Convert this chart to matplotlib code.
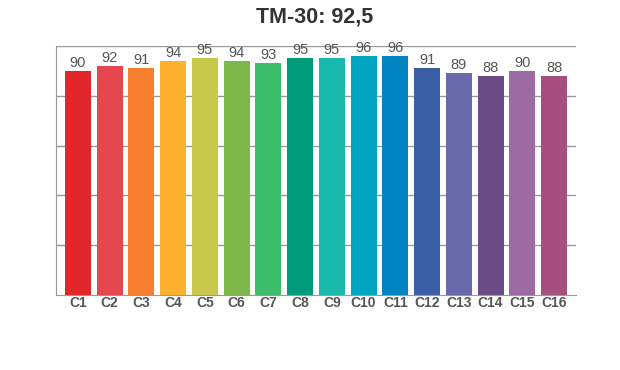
import matplotlib
matplotlib.use("Agg")
import matplotlib.pyplot as plt

plt.rcParams["font.family"] = ["Liberation Sans", "DejaVu Sans"]

categories = ["C1", "C2", "C3", "C4", "C5", "C6", "C7", "C8",
              "C9", "C10", "C11", "C12", "C13", "C14", "C15", "C16"]
values = [90, 92, 91, 94, 95, 94, 93, 95, 95, 96, 96, 91, 89, 88, 90, 88]
colors = ["#e3262b", "#e5474e", "#f57e2f", "#fbb12d", "#c8c84a", "#7db84a",
          "#3ebd6a", "#009b7a", "#1ab9ae", "#00a6c1", "#0085c2", "#3a5fa6",
          "#6a69ab", "#6a4b86", "#9e6aa3", "#a64e7d"]
title = "TM-30: 92,5"

fig = plt.figure(figsize=(6.2, 3.7), dpi=100)
ax = fig.add_axes([0.0897, 0.2027, 0.8393, 0.673])

x = list(range(len(categories)))
bars = ax.bar(x, values, width=0.82, color=colors, zorder=2)

for b, v in zip(bars, values):
    ax.text(b.get_x() + b.get_width() / 2, v + 0.4, str(v),
            ha="center", va="bottom", fontsize=10.5, color="#555555")

ax.set_xlim(-0.7, 15.69)
ax.set_ylim(0, 100)
ax.set_yticks([20, 40, 60, 80, 100])
ax.yaxis.grid(True, color="#999999", linewidth=1, zorder=0)
ax.tick_params(axis="y", left=False, labelleft=False)
ax.tick_params(axis="x", length=0, pad=1)
ax.set_xticks(x)
ax.set_xticklabels(categories, fontsize=10, fontweight="bold", color="#555555")

for s in ["top", "right"]:
    ax.spines[s].set_visible(False)
for s in ["left", "bottom"]:
    ax.spines[s].set_color("#999999")

fig.text(0.508, 0.953, title, ha="center", va="center",
         fontsize=15.5, fontweight="bold", color="#333333")

fig.savefig("out.png", dpi=100)
